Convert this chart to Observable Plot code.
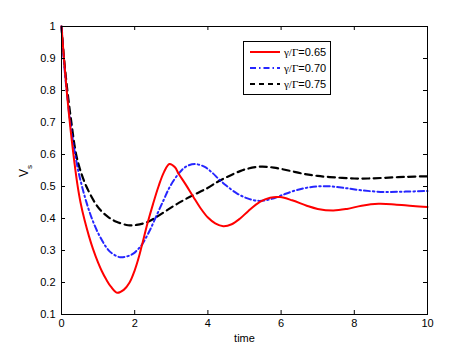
<!DOCTYPE html>
<html><head><meta charset="utf-8">
<script src="https://cdn.jsdelivr.net/npm/d3@7"></script>
<script src="https://cdn.jsdelivr.net/npm/@observablehq/plot@0.6"></script>
<style>html,body{margin:0;padding:0;background:#fff} svg{display:block}</style>
</head><body><div id="chart"></div>
<script>
// γ/Γ = 0.65 (red, solid)
const tRed = [0,0.05,0.1,0.15,0.2,0.25,0.3,0.35,0.43,0.52,0.63,0.75,0.86,1.0,1.1,1.22,1.35,1.52,1.7,1.86,2.0,2.1,2.19,2.35,2.5,2.65,2.8,2.95,3.1,3.2,3.4,3.6,3.8,4.0,4.2,4.42,4.65,4.88,5.1,5.42,5.7,5.97,6.3,6.7,7.0,7.43,7.8,8.2,8.66,9.1,9.6,10];
const vRed = [1.0,0.925,0.855,0.79,0.73,0.675,0.625,0.578,0.51,0.45,0.395,0.345,0.305,0.262,0.236,0.21,0.187,0.168,0.177,0.2,0.238,0.274,0.313,0.385,0.445,0.5,0.545,0.57,0.56,0.54,0.505,0.468,0.432,0.403,0.385,0.376,0.382,0.4,0.423,0.452,0.465,0.467,0.457,0.44,0.43,0.425,0.43,0.44,0.446,0.444,0.439,0.436];
// γ/Γ = 0.70 (blue, dash-dot)
const tBlue = [0,0.06,0.14,0.24,0.35,0.45,0.55,0.67,0.82,1.02,1.27,1.42,1.6,1.8,1.96,2.1,2.19,2.4,2.6,2.8,2.96,3.2,3.4,3.65,3.9,4.1,4.3,4.5,4.8,5.1,5.4,5.7,6.0,6.4,6.8,7.25,7.7,8.2,8.8,9.4,10];
const vBlue = [1.0,0.9,0.8,0.7,0.615,0.553,0.505,0.455,0.403,0.35,0.303,0.288,0.279,0.282,0.29,0.305,0.317,0.36,0.41,0.46,0.499,0.54,0.562,0.57,0.562,0.545,0.523,0.503,0.478,0.462,0.455,0.46,0.472,0.488,0.498,0.501,0.496,0.488,0.483,0.484,0.486];
// γ/Γ = 0.75 (black, dashed)
const tBlack = [0,0.07,0.16,0.27,0.4,0.53,0.68,0.9,1.05,1.27,1.5,1.82,2.05,2.35,2.6,2.87,3.15,3.51,3.97,4.24,4.42,4.88,5.1,5.45,5.8,6.2,6.6,7.0,7.5,8.0,8.37,8.8,9.4,10];
const vBlack = [1.0,0.9,0.8,0.7,0.6,0.545,0.5,0.452,0.428,0.405,0.39,0.379,0.38,0.389,0.405,0.425,0.445,0.468,0.494,0.513,0.524,0.548,0.556,0.562,0.559,0.55,0.54,0.533,0.528,0.525,0.525,0.527,0.53,0.532];

const seriesNames = ["0.65","0.70","0.75"];
const seriesColors = ["#ff0000","#0000ff","#000000"];
const xTicks = [0,2,4,6,8,10];
const yTicks = [0.1,0.2,0.3,0.4,0.5,0.6,0.7,0.8,0.9,1];
const xLabel = "time";
const yLabel = "V", ySub = "s";

const rows = (t, v, s) => t.map((d, i) => ({t: d, v: v[i], s}));
const red = rows(tRed, vRed, seriesNames[0]);
const blue = rows(tBlue, vBlue, seriesNames[1]);
const black = rows(tBlack, vBlack, seriesNames[2]);

const font = "'Liberation Sans', Arial, Helvetica, sans-serif";
const plot = Plot.plot({
  width: 472, height: 354,
  marginLeft: 61, marginRight: 45, marginTop: 26, marginBottom: 40,
  x: {domain: [0, 10]},
  y: {domain: [0.1, 1]},
  style: {fontFamily: font, fontSize: "11px", background: "white", color: "black", overflow: "visible"},
  marks: [
    Plot.line(black, {x: "t", y: "v", stroke: seriesColors[2], strokeWidth: 2.2, strokeDasharray: "7,4.5", curve: "catmull-rom"}),
    Plot.line(blue, {x: "t", y: "v", stroke: seriesColors[1], strokeWidth: 2, strokeDasharray: "6,3,1.5,3", curve: "catmull-rom", strokeOpacity: 0.85}),
    Plot.line(red, {x: "t", y: "v", stroke: seriesColors[0], strokeWidth: 2, curve: "catmull-rom"}),
    Plot.frame({stroke: "black", strokeWidth: 1}),
    Plot.ruleX(xTicks, {x: d => d, y1: 0.1, y2: 0.1, insetTop: -4, stroke: "black"}),
    Plot.ruleX(xTicks, {x: d => d, y1: 1, y2: 1, insetBottom: -4, stroke: "black"}),
    Plot.ruleY(yTicks, {y: d => d, x1: 0, x2: 0, insetRight: -4, stroke: "black"}),
    Plot.ruleY(yTicks, {y: d => d, x1: 10, x2: 10, insetLeft: -4, stroke: "black"}),
    Plot.axisX({ticks: xTicks, tickSize: 0, tickPadding: 5, tickFormat: d => String(d), label: null, fontSize: 11}),
    Plot.axisY({ticks: yTicks, tickSize: 0, tickPadding: 6, tickFormat: d => String(d), label: null, fontSize: 11}),
    Plot.text([xLabel], {frameAnchor: "bottom", dy: 23.5, lineAnchor: "middle", fontSize: 11, text: d => d})
  ]
});
document.getElementById("chart").appendChild(plot);

// y-axis label with subscript
const svg = d3.select(plot);
const yl = svg.append("text")
  .attr("transform", "translate(28,171) rotate(-90)")
  .attr("text-anchor", "middle")
  .attr("font-family", font)
  .attr("font-size", 12)
  .attr("fill", "black");
yl.append("tspan").text(yLabel);
yl.append("tspan").attr("dy", 4).attr("font-size", 8).text(ySub);

// legend
const lg = svg.append("g");
lg.append("rect").attr("x", 243.5).attr("y", 41.5).attr("width", 87).attr("height", 53)
  .attr("fill", "white").attr("stroke", "black").attr("stroke-width", 1);
const dashes = [null, "6,3,1.5,3", "5,4"];
const widths = [2, 2, 2.2];
const opac = [1, 0.85, 1];
seriesNames.forEach((name, i) => {
  const y = 52 + i * 16;
  lg.append("line").attr("x1", 250).attr("x2", 280).attr("y1", y).attr("y2", y)
    .attr("stroke", seriesColors[i]).attr("stroke-width", widths[i]).attr("stroke-opacity", opac[i])
    .attr("stroke-dasharray", dashes[i]);
  const t = lg.append("text").attr("x", 284).attr("y", y).attr("dy", "0.35em")
    .attr("text-anchor", "start").attr("font-size", 11).attr("fill", "black");
  t.append("tspan").attr("font-family", "'Liberation Serif', 'Times New Roman', serif").text("γ/Γ");
  t.append("tspan").attr("font-family", font).text("=" + name);
});
</script>
</body></html>
